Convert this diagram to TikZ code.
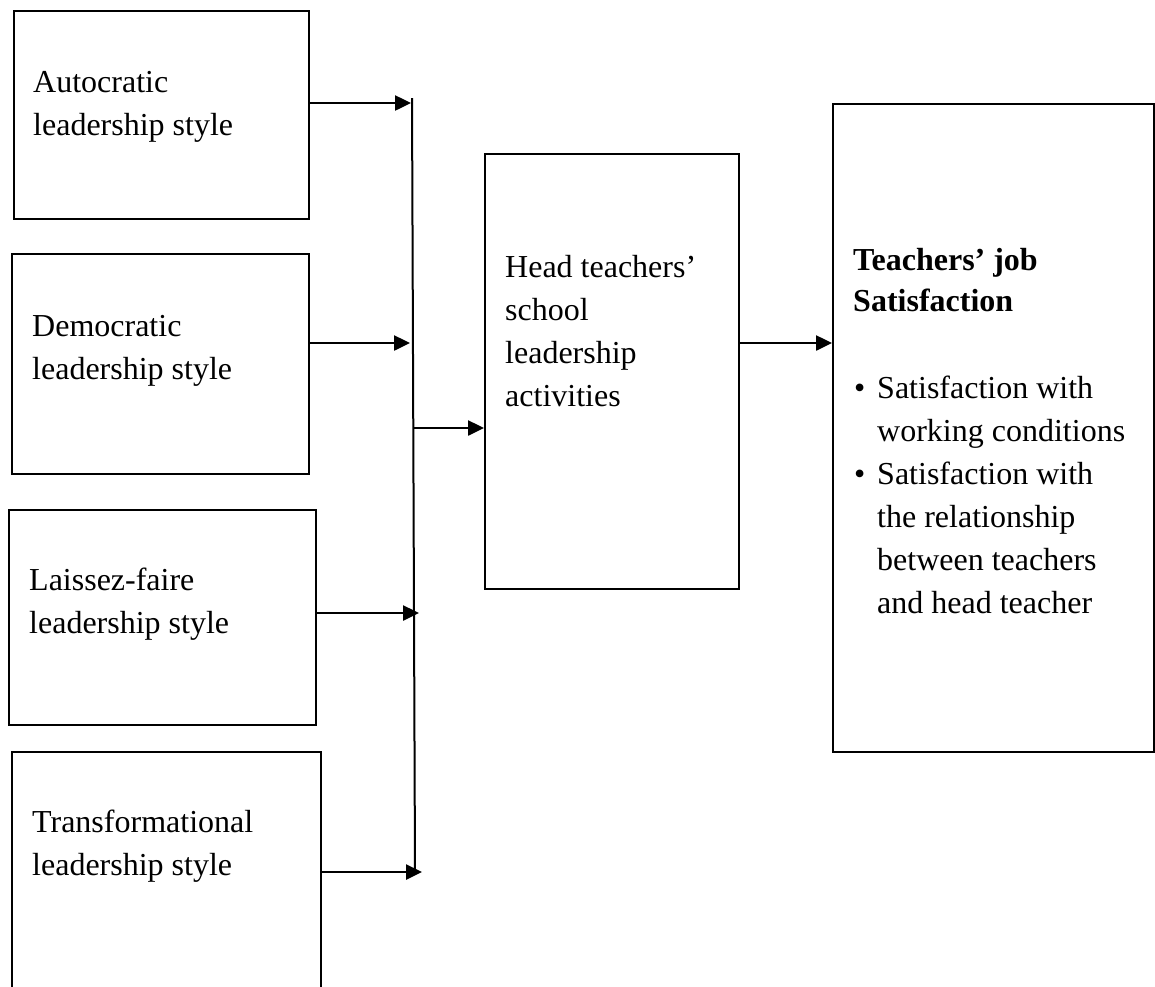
\documentclass[tikz,border=0pt]{standalone}
\usepackage{fontspec}
\setmainfont{Liberation Serif}
\usetikzlibrary{arrows.meta}
\begin{document}
\begin{tikzpicture}[x=1pt,y=-1pt,
  box/.style={draw=black, line width=2pt, rectangle, inner sep=0pt, anchor=north west},
  lbl/.style={inner sep=0pt, anchor=north west, align=left, font=\fontsize{32}{43}\selectfont},
  arr/.style={draw=black, line width=2.5pt, -{Triangle[length=16pt,width=15pt]}},
  bar/.style={draw=black, line width=2pt}]
\useasboundingbox (0,0) rectangle (1155,986);
\clip (0,0) rectangle (1155,986);
% left boxes
\node[box, minimum width=295pt, minimum height=208pt] (b1) at (13,10) {};
\node[box, minimum width=297pt, minimum height=220pt] (b2) at (11,253) {};
\node[box, minimum width=307pt, minimum height=215pt] (b3) at (8,509) {};
\node[box, minimum width=309pt, minimum height=260pt] (b4) at (11,751) {};
% middle and right boxes
\node[box, minimum width=254pt, minimum height=435pt] (mid) at (484,153) {};
\node[box, minimum width=321pt, minimum height=648pt] (rt) at (832,103) {};
% texts
\node[lbl] (t1) at (33,61.9) {\strut Autocratic\\leadership style};
\node[lbl] (t2) at (32,305.9) {\strut Democratic\\leadership style};
\node[lbl] (t3) at (29,559.9) {\strut Laissez-faire\\leadership style};
\node[lbl] (t4) at (32,801.9) {\strut Transformational\\leadership style};
\node[lbl] (tm) at (505,246.9) {\strut Head teachers’\\school\\leadership\\activities};
\node[lbl, font=\fontsize{32}{41}\selectfont\bfseries] (tt) at (853,241.9) {\strut Teachers’ job\\Satisfaction};
\node[lbl] (bu1) at (854,367.9) {\strut •};
\node[lbl] (s1) at (877,367.9) {\strut Satisfaction with\\working conditions};
\node[lbl] (bu2) at (854,453.9) {\strut •};
\node[lbl] (s2) at (877,453.9) {\strut Satisfaction with\\the relationship\\between teachers\\and head teacher};
% collecting bar
\coordinate (vtop) at (412,98);
\coordinate (vbot) at (415,872);
\draw[bar] (vtop) -- (vbot);
% arrow end points
\coordinate (j1) at (411,103);
\coordinate (j2) at (410,343);
\coordinate (j3) at (419,613);
\coordinate (j4) at (422,872);
\coordinate (jm) at (414,428);
\coordinate (r) at (0,343);
\draw[arr] (b1.east |- j1) -- (j1);
\draw[arr] (b2.east |- j2) -- (j2);
\draw[arr] (b3.east |- j3) -- (j3);
\draw[arr] (b4.east |- j4) -- (j4);
\draw[arr] (jm) -- (mid.west |- jm);
\draw[arr] (mid.east |- r) -- (rt.west |- r);
\end{tikzpicture}
\end{document}
